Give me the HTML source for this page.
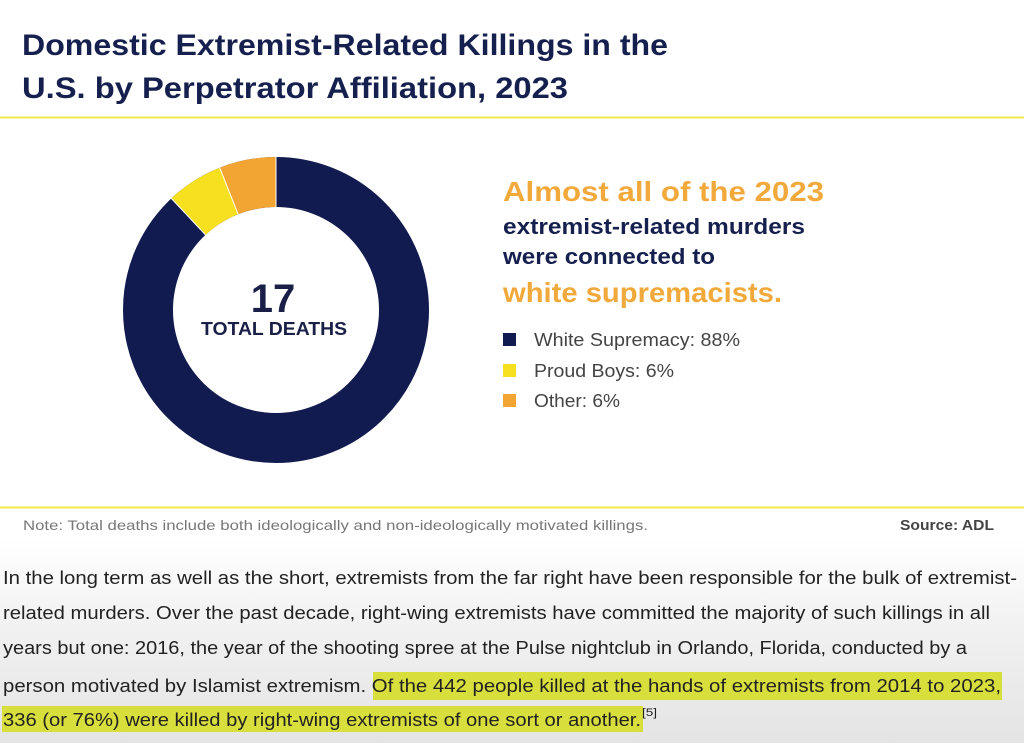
<!DOCTYPE html>
<html><head><meta charset="utf-8"><style>
html,body{margin:0;padding:0;}
body{width:1024px;height:743px;overflow:hidden;background:linear-gradient(#fff 0px,#fff 540px,#f2f2f2 620px,#e4e4e4 743px);}
svg{display:block}
</style></head><body>
<svg width="1024" height="743" viewBox="0 0 1024 743" xmlns="http://www.w3.org/2000/svg" font-family="Liberation Sans, sans-serif">
<text x="22" y="55" font-size="30" font-weight="bold" fill="#15204f" textLength="646" lengthAdjust="spacingAndGlyphs">Domestic Extremist-Related Killings in the</text>
<text x="22" y="98" font-size="30" font-weight="bold" fill="#15204f" textLength="546" lengthAdjust="spacingAndGlyphs">U.S. by Perpetrator Affiliation, 2023</text>
<line x1="0" y1="117.5" x2="1024" y2="117.5" stroke="#f3e84a" stroke-width="2"/>
<!-- donut -->
<g transform="translate(276,310)">
<circle r="128" fill="none" stroke="#121b4f" stroke-width="50"/>
<path d="M0,-153 L0,-103 A103,103 0 0 0 -37.9,-95.8 L-56.3,-142.3 A153,153 0 0 1 0,-153Z" fill="#f2a533"/>
<path d="M-56.3,-142.3 L-37.9,-95.8 A103,103 0 0 0 -70.5,-75.1 L-104.7,-111.6 A153,153 0 0 1 -56.3,-142.3Z" fill="#f7e01f"/>
<line x1="0" y1="-103" x2="0" y2="-153" stroke="#fff" stroke-width="1"/>
<line x1="-37.9" y1="-95.8" x2="-56.3" y2="-142.3" stroke="#fff" stroke-width="1"/>
<line x1="-70.5" y1="-75.1" x2="-104.7" y2="-111.6" stroke="#fff" stroke-width="1"/>
</g>
<text x="273" y="312" font-size="40" font-weight="bold" fill="#1a1f48" text-anchor="middle">17</text>
<text x="274" y="335" font-size="18" font-weight="bold" fill="#1a1f48" text-anchor="middle" textLength="146" lengthAdjust="spacingAndGlyphs">TOTAL DEATHS</text>
<!-- right text -->
<text x="503" y="201" font-size="28" font-weight="bold" fill="#f2a93b" textLength="321" lengthAdjust="spacingAndGlyphs">Almost all of the 2023</text>
<text x="503" y="234" font-size="22" font-weight="bold" fill="#15204f" textLength="302" lengthAdjust="spacingAndGlyphs">extremist-related murders</text>
<text x="503" y="264" font-size="22" font-weight="bold" fill="#15204f" textLength="212" lengthAdjust="spacingAndGlyphs">were connected to</text>
<text x="503" y="302" font-size="28" font-weight="bold" fill="#f2a93b" textLength="279" lengthAdjust="spacingAndGlyphs">white supremacists.</text>
<rect x="503" y="333" width="13" height="13" fill="#121b4f"/>
<rect x="503" y="364" width="13" height="13" fill="#f7e01f"/>
<rect x="503" y="394" width="13" height="13" fill="#f2a533"/>
<text x="534" y="346" font-size="18" fill="#444" textLength="206" lengthAdjust="spacingAndGlyphs">White Supremacy: 88%</text>
<text x="534" y="377" font-size="18" fill="#444" textLength="140" lengthAdjust="spacingAndGlyphs">Proud Boys: 6%</text>
<text x="534" y="407" font-size="18" fill="#444" textLength="86" lengthAdjust="spacingAndGlyphs">Other: 6%</text>
<line x1="0" y1="507.5" x2="1024" y2="507.5" stroke="#f3e84a" stroke-width="2"/>
<text x="23" y="530" font-size="14" fill="#777" textLength="625" lengthAdjust="spacingAndGlyphs">Note: Total deaths include both ideologically and non-ideologically motivated killings.</text>
<text x="900" y="530" font-size="15" font-weight="bold" fill="#444" textLength="94" lengthAdjust="spacingAndGlyphs">Source: ADL</text>
<!-- highlights -->
<rect x="373" y="672" width="629" height="28" fill="#d8df3c"/>
<rect x="2" y="706" width="641" height="26" fill="#d8df3c"/>
<g font-size="18" fill="#222">
<text x="3" y="584" textLength="1014" lengthAdjust="spacingAndGlyphs">In the long term as well as the short, extremists from the far right have been responsible for the bulk of extremist-</text>
<text x="3" y="619" textLength="987" lengthAdjust="spacingAndGlyphs">related murders. Over the past decade, right-wing extremists have committed the majority of such killings in all</text>
<text x="3" y="654" textLength="964" lengthAdjust="spacingAndGlyphs">years but one: 2016, the year of the shooting spree at the Pulse nightclub in Orlando, Florida, conducted by a</text>
<text x="3" y="692" textLength="998" lengthAdjust="spacingAndGlyphs">person motivated by Islamist extremism. Of the 442 people killed at the hands of extremists from 2014 to 2023,</text>
<text x="3" y="726" textLength="638" lengthAdjust="spacingAndGlyphs">336 (or 76%) were killed by right-wing extremists of one sort or another.</text>
<text x="642" y="716" font-size="11" textLength="15" lengthAdjust="spacingAndGlyphs">[5]</text>
</g>
</svg>
</body></html>
